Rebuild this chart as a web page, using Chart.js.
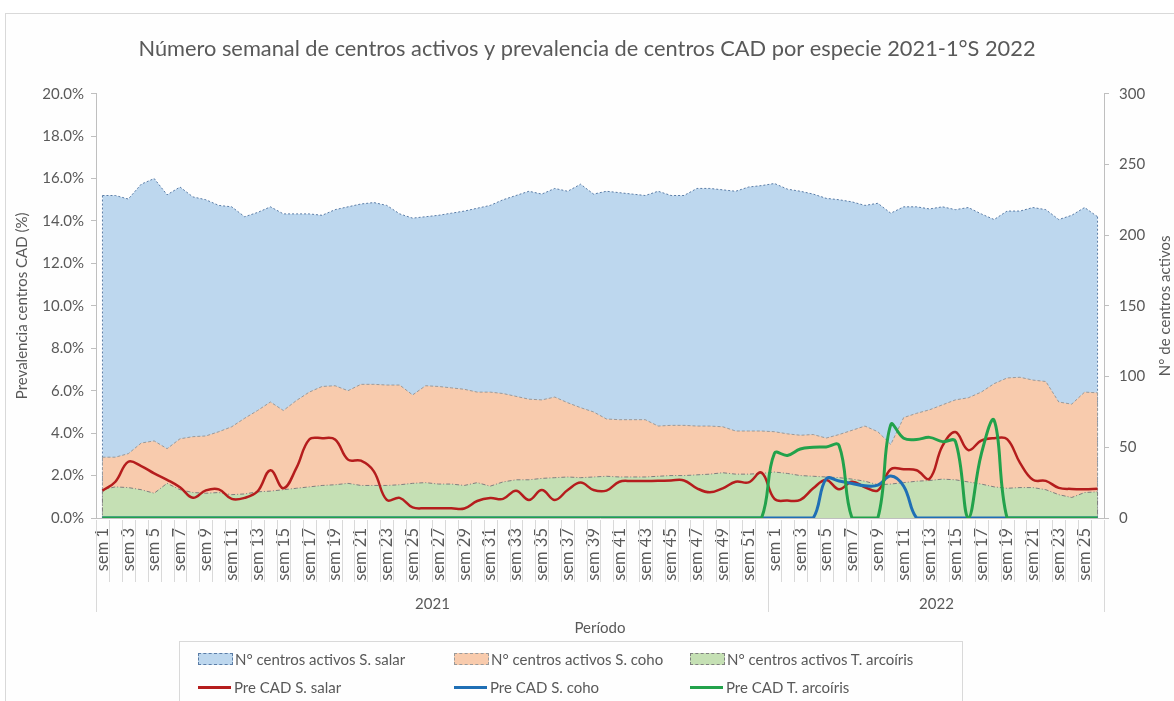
<!DOCTYPE html>
<html>
<head>
<meta charset="utf-8">
<script src="https://cdn.jsdelivr.net/npm/chart.js@4.4.1/dist/chart.umd.min.js"></script>
<style>
    html, body { margin: 0; padding: 0; background: #fff; }
    #wrap { position: relative; width: 1174px; height: 701px; overflow: hidden; }
    #frame { position: absolute; left: 5px; top: 13px; width: 1200px; height: 720px; border: 1px solid #d9d9d9; background: #fefefe; }
    #chart { position: absolute; left: 0; top: 0; }
    #legend { position: absolute; left: 179px; top: 641px; width: 784px; height: 64px; border: 1px solid #d9d9d9; box-sizing: border-box; font-family: Lato, sans-serif; font-size: 15px; color: #595959; }
    .item { position: absolute; display: flex; align-items: center; height: 20px; white-space: nowrap; }
    .swatch-area { width: 35px; height: 12px; box-sizing: border-box; border-width: 1px; border-style: dashed; margin-right: 2px; }
    .swatch-line { width: 33px; height: 3px; margin-right: 3px; }
</style>
</head>
<body>
<div id="wrap">
    <div id="frame"></div>
    <canvas id="chart" width="1174" height="701"></canvas>
    <div id="legend"></div>
</div>
<script>
// Categories
const years = ['2021', '2022'];
const weeksPerYear = [52, 26];

// N° de centros activos (eje derecho)
const activosSalar = [
    228, 228, 225.5, 236, 240, 228.5, 234, 227, 225, 221,
    220, 213, 216, 220, 215, 215, 215, 214, 218, 220,
    222, 223, 221, 215, 212, 213, 214, 215.5, 217, 219,
    221, 225, 228, 231, 229, 233, 231, 236, 229, 231,
    230, 229, 228, 231, 228, 228, 233, 233, 232, 231,
    234, 235, 236.5, 232.5, 231, 229, 226, 225, 223.5, 221,
    222.5, 215.5, 220, 220, 218.5, 220, 218, 219.5, 215, 211,
    217, 217, 219.5, 218, 211, 214, 219.5, 213
];
const activosCoho = [
    43, 43, 45.5, 53, 54.5, 49, 56, 57.5, 58, 61,
    64.5, 70.5, 76, 82, 76, 83, 89, 93, 93.5, 90,
    94.5, 94.5, 94, 94, 87, 93.5, 93, 92, 91, 89,
    89, 88, 86, 84, 83.5, 85.5, 81.5, 78, 75, 70,
    69.5, 69.5, 69.5, 65, 65.5, 65.5, 65, 65, 64.5, 61.5,
    61.5, 61.5, 61, 59.5, 58.5, 59, 56.5, 59, 62, 65,
    61, 52, 71, 74, 76.5, 80, 83.5, 85, 89, 95,
    99, 99.5, 97.5, 96.5, 82, 80.5, 89, 88.5
];
const activosArcoiris = [
    20, 22, 21.5, 20, 17.5, 24.5, 20, 18, 17.5, 18,
    16.5, 17, 18.5, 19, 20, 21, 22, 23, 23.5, 24.5,
    23, 23, 23, 23.5, 24.5, 25, 24, 24, 23, 25,
    22.5, 25.5, 27, 27, 28, 28.5, 29, 28.5, 29, 29.5,
    29, 29, 29, 29.5, 30, 30, 30.5, 31, 32, 31,
    31, 31.5, 32.5, 31.5, 30, 29.5, 29, 28.5, 27.5, 26,
    23.5, 24, 25, 26, 26.5, 27.5, 27, 25.5, 24, 22,
    21, 21.5, 21.5, 20, 16.5, 14.5, 18, 18.5
];

// Prevalencia centros CAD (%) (eje izquierdo)
const prevSalar = [
    1.29, 1.71, 2.65, 2.45, 2.1, 1.8, 1.45, 0.95, 1.3, 1.35,
    0.9, 0.95, 1.25, 2.25, 1.4, 2.35, 3.7, 3.76, 3.7, 2.75,
    2.7, 2.2, 0.85, 0.95, 0.5, 0.46, 0.46, 0.46, 0.45, 0.8,
    0.94, 0.9, 1.29, 0.85, 1.32, 0.85, 1.32, 1.67, 1.32, 1.29,
    1.71, 1.74, 1.74, 1.75, 1.77, 1.77, 1.4, 1.21, 1.4, 1.71,
    1.68, 2.14, 0.9, 0.82, 0.85, 1.4, 1.79, 1.35, 1.71, 1.45,
    1.3, 2.3, 2.3, 2.25, 1.85, 3.4, 4.05, 3.2, 3.65, 3.76,
    3.72, 2.6, 1.8, 1.75, 1.42, 1.37, 1.36, 1.38
];
const prevCoho = [
    0, 0, 0, 0, 0, 0, 0, 0, 0, 0,
    0, 0, 0, 0, 0, 0, 0, 0, 0, 0,
    0, 0, 0, 0, 0, 0, 0, 0, 0, 0,
    0, 0, 0, 0, 0, 0, 0, 0, 0, 0,
    0, 0, 0, 0, 0, 0, 0, 0, 0, 0,
    0, 0, 0, 0, 0, 0, 1.85, 1.74, 1.63, 1.52,
    1.55, 1.98, 1.5, 0, 0, 0, 0, 0, 0, 0,
    0, 0, 0, 0, 0, 0, 0, 0
];
const prevArcoiris = [
    0, 0, 0, 0, 0, 0, 0, 0, 0, 0,
    0, 0, 0, 0, 0, 0, 0, 0, 0, 0,
    0, 0, 0, 0, 0, 0, 0, 0, 0, 0,
    0, 0, 0, 0, 0, 0, 0, 0, 0, 0,
    0, 0, 0, 0, 0, 0, 0, 0, 0, 0,
    0, 0, 3.05, 2.95, 3.25, 3.33, 3.35, 3.42, 0, 0,
    0, 4.4, 3.76, 3.7, 3.8, 3.6, 3.62, 0, 3.0, 4.6,
    0, 0, 0, 0, 0, 0, 0, 0
];

// Axis ticks
const leftTicks = { min: 0, max: 20, step: 2 };
const rightTicks = { min: 0, max: 300, step: 50 };

// Week labels built from the year table
const weekLabels = [];
weeksPerYear.forEach((n) => {
    for (let w = 1; w <= n; w++) weekLabels.push('sem ' + w);
});

const textColor = '#595959';
const axisColor = '#bfbfbf';
const font = 'Lato';

// Vertical outline at both ends of each area (Excel style)
const areaEdges = {
    id: 'areaEdges',
    afterDatasetDraw(chart, args) {
        const ds = chart.data.datasets[args.index];
        if (!ds.fill) return;
        const pts = args.meta.data;
        const base = chart.scales.yR.getPixelForValue(0);
        const c = chart.ctx;
        c.save();
        c.strokeStyle = ds.borderColor;
        c.lineWidth = 1;
        c.setLineDash(ds.borderDash || []);
        [pts[0], pts[pts.length - 1]].forEach((p) => {
            c.beginPath();
            c.moveTo(p.x, p.y);
            c.lineTo(p.x, base);
            c.stroke();
        });
        c.restore();
    }
};

// Year groups, separators and right axis title
const axisExtras = {
    id: 'axisExtras',
    afterDraw(chart) {
        const ctx = chart.ctx;
        const x = chart.scales.x;
        const area = chart.chartArea;
        const step = x.getPixelForValue(1) - x.getPixelForValue(0);
        const edge = (i) => Math.round(x.getPixelForValue(i) - step / 2) + 0.5;

        ctx.save();
        ctx.strokeStyle = '#d9d9d9';
        ctx.lineWidth = 1;

        // short separators between weeks
        for (let i = 1; i < weekLabels.length; i++) {
            ctx.beginPath();
            ctx.moveTo(edge(i), area.bottom + 2);
            ctx.lineTo(edge(i), area.bottom + 64);
            ctx.stroke();
        }

        // long separators between years + year labels
        let start = 0;
        ctx.fillStyle = textColor;
        ctx.font = '15px ' + font;
        ctx.textAlign = 'center';
        ctx.textBaseline = 'middle';
        years.forEach((y, k) => {
            const end = start + weeksPerYear[k];
            [start, end].forEach((b) => {
                ctx.beginPath();
                ctx.moveTo(edge(b), area.bottom + 2);
                ctx.lineTo(edge(b), area.bottom + 94);
                ctx.stroke();
            });
            ctx.fillText(y, (edge(start) + edge(end)) / 2, area.bottom + 86);
            start = end;
        });

        // right axis title (reads bottom to top)
        ctx.translate(1165, (area.top + area.bottom) / 2);
        ctx.rotate(-Math.PI / 2);
        ctx.fillText('N° de centros activos', 0, 0);
        ctx.restore();
    }
};

const ctx = document.getElementById('chart').getContext('2d');
const chart = new Chart(ctx, {
    type: 'line',
    data: {
        labels: weekLabels,
        datasets: [
            {
                label: 'N° centros activos S. salar',
                data: activosSalar,
                yAxisID: 'yR',
                fill: 'origin',
                backgroundColor: '#bdd7ee',
                borderColor: '#5a7ca6',
                borderWidth: 1,
                borderDash: [2, 2],
                tension: 0,
                pointRadius: 0,
                order: 5,
            },
            {
                label: 'N° centros activos S. coho',
                data: activosCoho,
                yAxisID: 'yR',
                fill: 'origin',
                backgroundColor: '#f8cbad',
                borderColor: '#9a9a9a',
                borderWidth: 1,
                borderDash: [3, 2],
                tension: 0,
                pointRadius: 0,
                order: 4,
            },
            {
                label: 'N° centros activos T. arcoíris',
                data: activosArcoiris,
                yAxisID: 'yR',
                fill: 'origin',
                backgroundColor: '#c5e0b4',
                borderColor: '#7f7f7f',
                borderWidth: 1,
                borderDash: [4, 2, 1, 2],
                tension: 0,
                pointRadius: 0,
                order: 3,
            },
            {
                label: 'Pre CAD S. salar',
                data: prevSalar,
                yAxisID: 'yL',
                fill: false,
                borderColor: '#b51d1d',
                borderWidth: 2.5,
                tension: 0.4,
                pointRadius: 0,
                order: 2,
            },
            {
                label: 'Pre CAD S. coho',
                data: prevCoho,
                yAxisID: 'yL',
                fill: false,
                borderColor: '#1f6fb5',
                borderWidth: 3,
                tension: 0.4,
                pointRadius: 0,
                order: 1,
            },
            {
                label: 'Pre CAD T. arcoíris',
                data: prevArcoiris,
                yAxisID: 'yL',
                fill: false,
                borderColor: '#22a24b',
                borderWidth: 3,
                tension: 0.4,
                pointRadius: 0,
                order: 0,
            },
        ],
    },
    options: {
        responsive: false,
        animation: false,
        events: [],
        layout: { padding: 0 },
        scales: {
            x: {
                type: 'category',
                offset: true,
                grid: { display: false, drawTicks: false },
                border: { display: true, color: axisColor },
                ticks: {
                    autoSkip: false,
                    maxRotation: 90,
                    minRotation: 90,
                    padding: 10,
                    color: textColor,
                    font: { family: font, size: 16.5 },
                    callback: (v, i) => (i % 2 === 0 ? weekLabels[i] : ''),
                },
                title: {
                    display: true,
                    text: 'Período',
                    color: textColor,
                    font: { family: font, size: 15 },
                    padding: { top: 0, bottom: 64 },
                },
                afterFit: (s) => { s.height = 183; },
            },
            yL: {
                position: 'left',
                min: leftTicks.min,
                max: leftTicks.max,
                ticks: {
                    stepSize: leftTicks.step,
                    padding: 7,
                    color: textColor,
                    font: { family: font, size: 15 },
                    callback: (v) => v.toFixed(1) + '%',
                },
                grid: { drawOnChartArea: false, tickLength: 5, color: axisColor },
                border: { color: axisColor },
                title: {
                    display: true,
                    text: 'Prevalencia centros CAD (%)',
                    color: textColor,
                    font: { family: font, size: 15 },
                    padding: { top: 13, bottom: 0 },
                },
                afterFit: (s) => { s.width = 96; },
            },
            yR: {
                position: 'right',
                min: rightTicks.min,
                max: rightTicks.max,
                ticks: {
                    stepSize: rightTicks.step,
                    padding: 10,
                    color: textColor,
                    font: { family: font, size: 15 },
                },
                grid: { drawOnChartArea: false, tickLength: 5, color: axisColor },
                border: { color: axisColor },
                afterFit: (s) => { s.width = 70; },
            },
        },
        plugins: {
            legend: { display: false },
            tooltip: { enabled: false },
            title: {
                display: true,
                text: 'Número semanal de centros activos y prevalencia de centros CAD por especie 2021-1°S 2022',
                color: textColor,
                font: { family: font, size: 21.8, weight: 'normal' },
                padding: { top: 36, bottom: 31.5 },
            },
        },
    },
    plugins: [areaEdges, axisExtras],
});

// HTML legend built from the datasets
function buildLegend() {
    const legend = document.getElementById('legend');
    const colX = [18, 274, 510];
    const rowY = [7, 35];
    chart.data.datasets.forEach((ds, i) => {
        const item = document.createElement('div');
        item.className = 'item';
        item.style.left = colX[i % 3] + 'px';
        item.style.top = rowY[Math.floor(i / 3)] + 'px';
        const sw = document.createElement('span');
        if (ds.fill) {
            sw.className = 'swatch-area';
            sw.style.background = ds.backgroundColor;
            sw.style.borderColor = ds.borderColor;
        } else {
            sw.className = 'swatch-line';
            sw.style.background = ds.borderColor;
        }
        const txt = document.createElement('span');
        txt.textContent = ds.label;
        item.appendChild(sw);
        item.appendChild(txt);
        legend.appendChild(item);
    });
}
buildLegend();
</script>
</body>
</html>
